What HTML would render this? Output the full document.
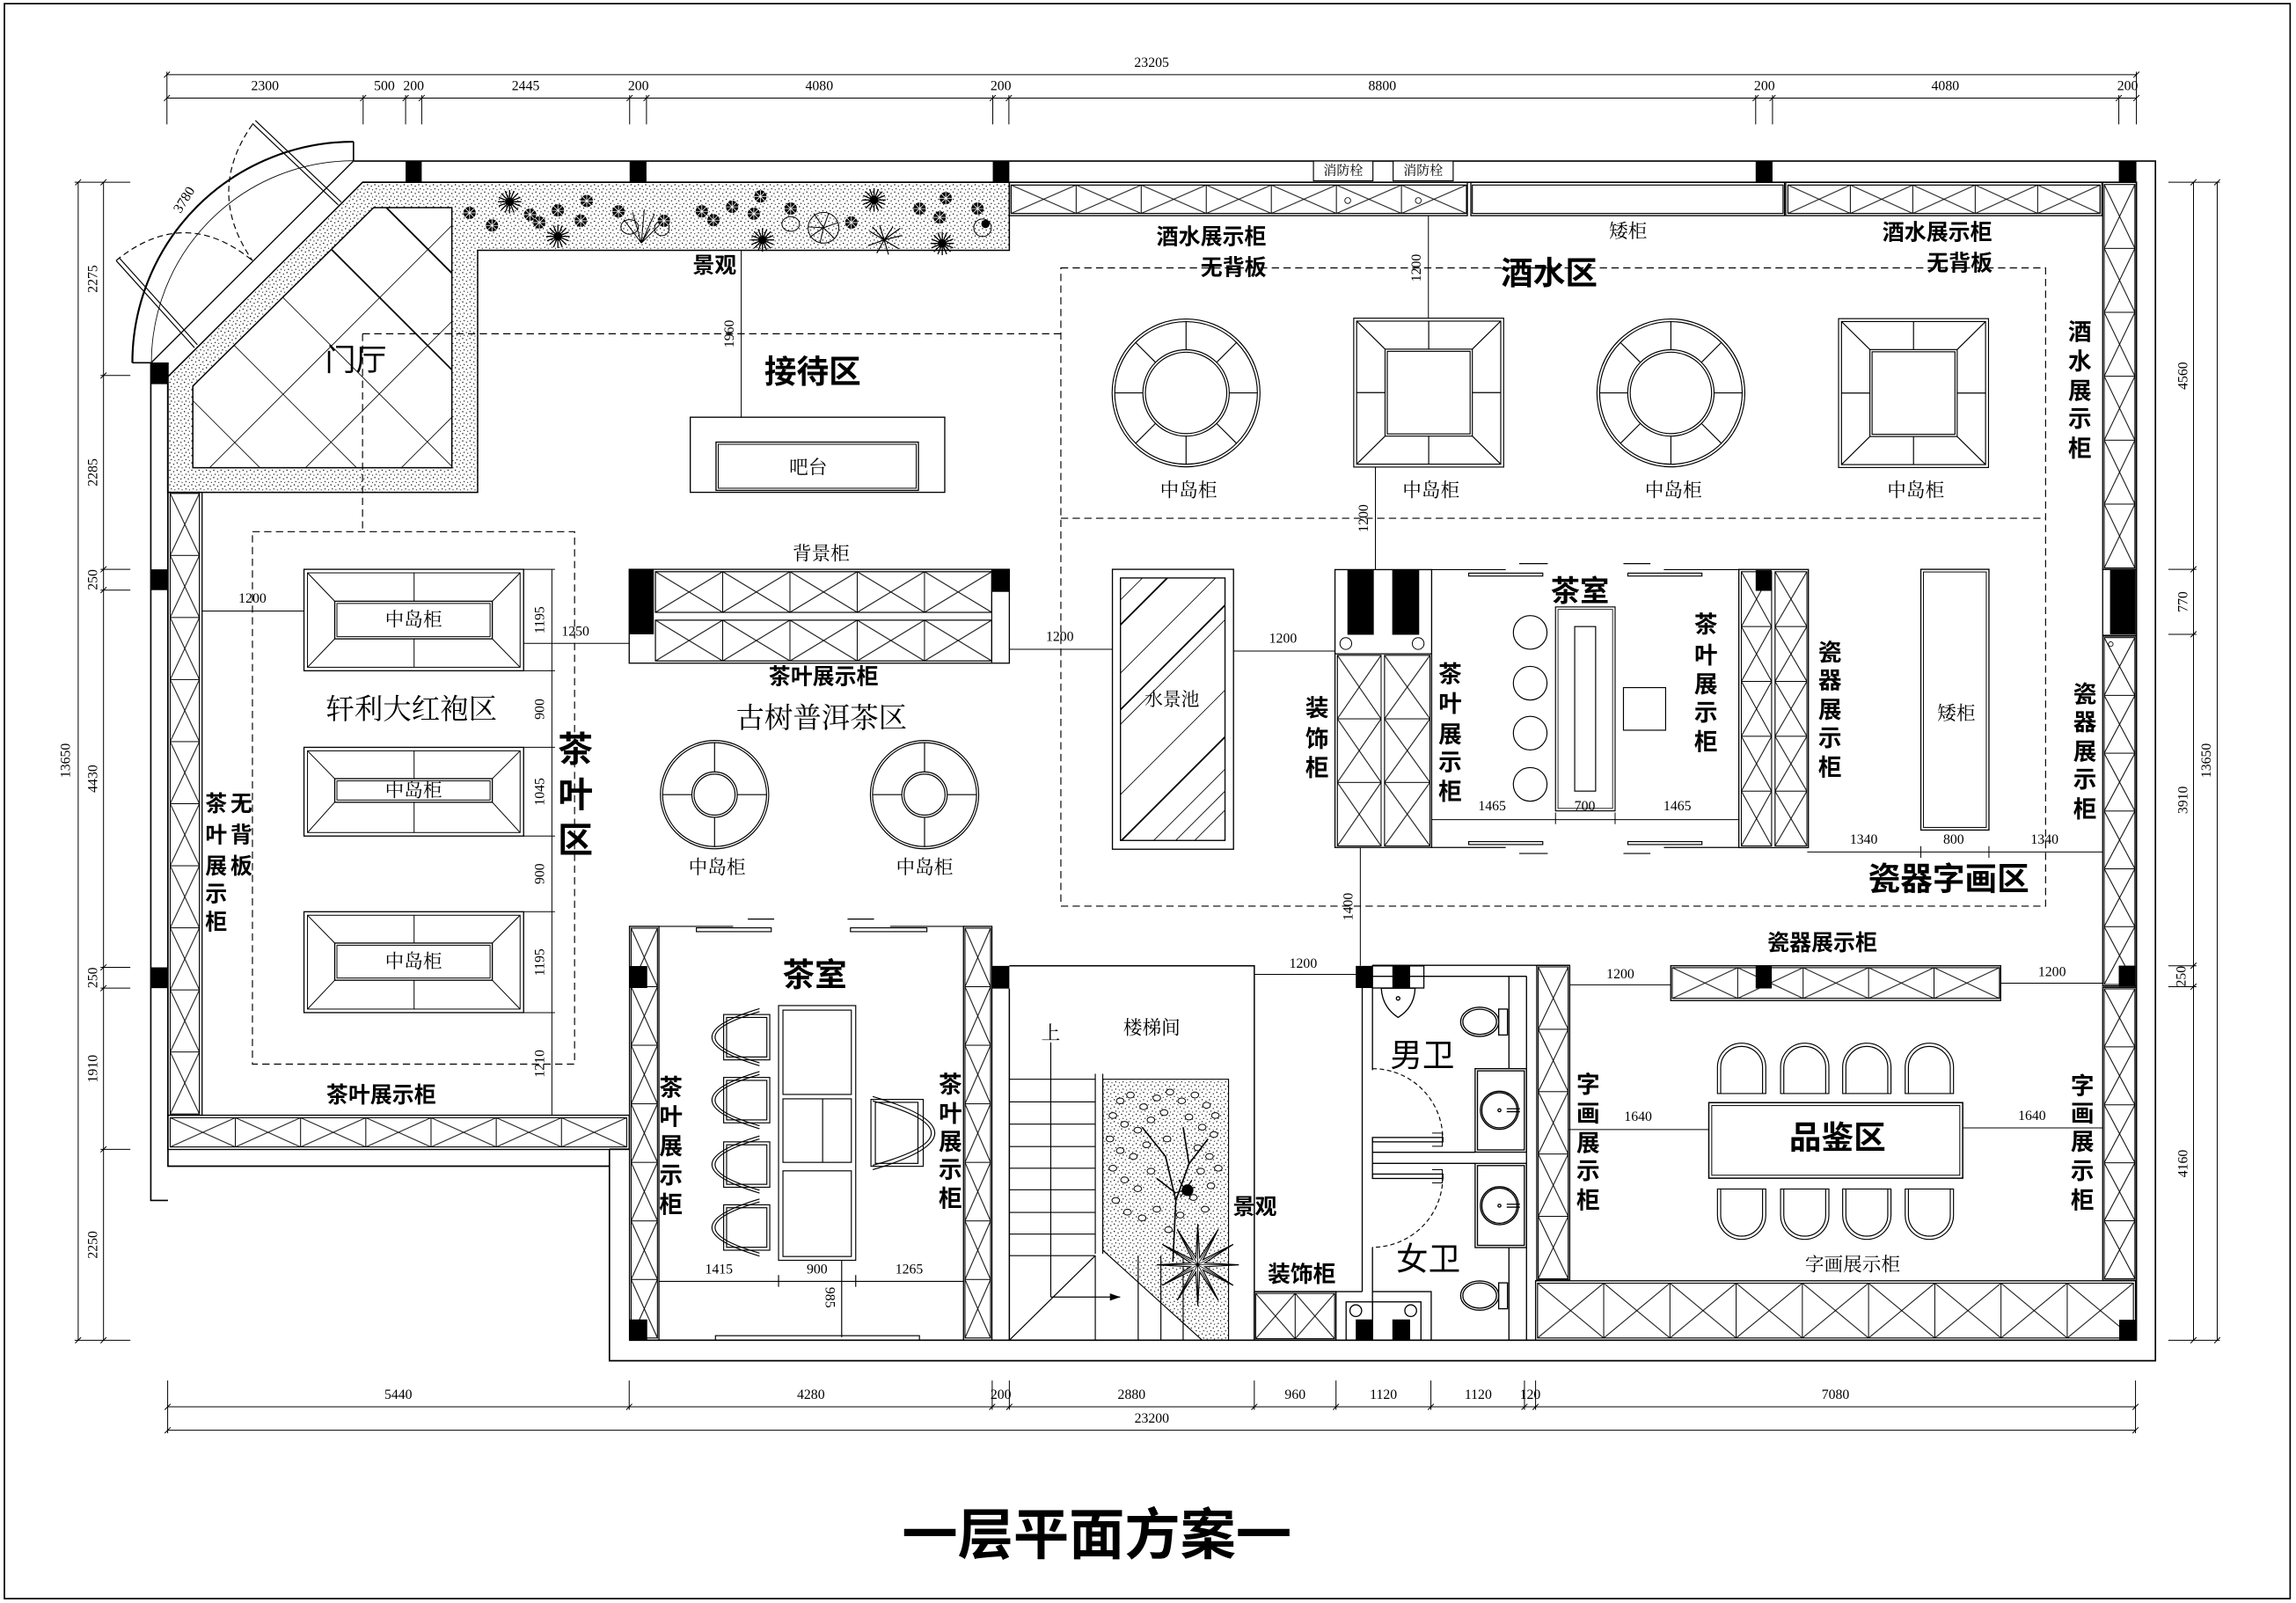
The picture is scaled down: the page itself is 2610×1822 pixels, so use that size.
<!DOCTYPE html>
<html><head><meta charset="utf-8">
<style>
html,body{margin:0;padding:0;background:#fff;}
svg{display:block}
.b{font-family:"Liberation Sans","Noto Sans CJK SC",sans-serif;font-weight:bold;fill:#000}
.r{font-family:"Liberation Sans","Noto Sans CJK SC",sans-serif;fill:#000}
.s{font-family:"Liberation Serif","Noto Serif CJK SC",serif;fill:#000}
.n{font-family:"Liberation Sans Narrow","Liberation Serif",serif;font-size:9.5px;fill:#000}
text{dominant-baseline:central;text-anchor:middle}
</style></head><body>
<svg xmlns="http://www.w3.org/2000/svg" width="2610" height="1822" viewBox="0 0 1568 1095" preserveAspectRatio="none">
<defs>
<pattern id="dots" patternUnits="userSpaceOnUse" width="5" height="5"><circle cx="1" cy="1.2" r="0.45"/><circle cx="3.6" cy="2.2" r="0.4"/><circle cx="2" cy="4" r="0.42"/><circle cx="4.4" cy="4.6" r="0.35"/></pattern>
<pattern id="p1" patternUnits="userSpaceOnUse" x="690.5" y="126.4" width="44.43" height="19.4"><path d="M0 0L44.43 19.4M44.43 0L0 19.4M0 0H44.43V19.4H0Z" fill="none" stroke="#000" stroke-width="0.6"/></pattern>
<pattern id="p2" patternUnits="userSpaceOnUse" x="1221" y="126.4" width="42.64" height="19.4"><path d="M0 0L42.64 19.4M42.64 0L0 19.4M0 0H42.64V19.4H0Z" fill="none" stroke="#000" stroke-width="0.6"/></pattern>
<pattern id="p3" patternUnits="userSpaceOnUse" x="1437" y="126" width="21" height="43.67"><path d="M0 0L21 43.67M21 0L0 43.67M0 0H21V43.67H0Z" fill="none" stroke="#000" stroke-width="0.6"/></pattern>
<pattern id="p4" patternUnits="userSpaceOnUse" x="1437" y="435.5" width="21" height="39.5"><path d="M0 0L21 39.5M21 0L0 39.5M0 0H21V39.5H0Z" fill="none" stroke="#000" stroke-width="0.6"/></pattern>
<pattern id="p5" patternUnits="userSpaceOnUse" x="1437" y="675.5" width="21" height="39.6"><path d="M0 0L21 39.6M21 0L0 39.6M0 0H21V39.6H0Z" fill="none" stroke="#000" stroke-width="0.6"/></pattern>
<pattern id="p6" patternUnits="userSpaceOnUse" x="116.2" y="337" width="20" height="42.4"><path d="M0 0L20 42.4M20 0L0 42.4M0 0H20V42.4H0Z" fill="none" stroke="#000" stroke-width="0.6"/></pattern>
<pattern id="p7" patternUnits="userSpaceOnUse" x="116.2" y="763.5" width="44.54" height="20"><path d="M0 0L44.54 20M44.54 0L0 20M0 0H44.54V20H0Z" fill="none" stroke="#000" stroke-width="0.6"/></pattern>
<pattern id="p8" patternUnits="userSpaceOnUse" x="447.6" y="390.5" width="45.94" height="27.8"><path d="M0 0L45.94 27.8M45.94 0L0 27.8M0 0H45.94V27.8H0Z" fill="none" stroke="#000" stroke-width="0.6"/></pattern>
<pattern id="p9" patternUnits="userSpaceOnUse" x="447.6" y="423.6" width="45.94" height="27.9"><path d="M0 0L45.94 27.9M45.94 0L0 27.9M0 0H45.94V27.9H0Z" fill="none" stroke="#000" stroke-width="0.6"/></pattern>
<pattern id="p10" patternUnits="userSpaceOnUse" x="431" y="634" width="18" height="40"><path d="M0 0L18 40M18 0L0 40M0 0H18V40H0Z" fill="none" stroke="#000" stroke-width="0.6"/></pattern>
<pattern id="p11" patternUnits="userSpaceOnUse" x="659" y="634" width="17.5" height="40"><path d="M0 0L17.5 40M17.5 0L0 40M0 0H17.5V40H0Z" fill="none" stroke="#000" stroke-width="0.6"/></pattern>
<pattern id="p12" patternUnits="userSpaceOnUse" x="913.3" y="447.6" width="29.9" height="43.43"><path d="M0 0L29.9 43.43M29.9 0L0 43.43M0 0H29.9V43.43H0Z" fill="none" stroke="#000" stroke-width="0.6"/></pattern>
<pattern id="p13" patternUnits="userSpaceOnUse" x="945.5" y="447.6" width="31.1" height="43.43"><path d="M0 0L31.1 43.43M31.1 0L0 43.43M0 0H31.1V43.43H0Z" fill="none" stroke="#000" stroke-width="0.6"/></pattern>
<pattern id="p14" patternUnits="userSpaceOnUse" x="1189.2" y="390.5" width="20.7" height="37.48"><path d="M0 0L20.7 37.48M20.7 0L0 37.48M0 0H20.7V37.48H0Z" fill="none" stroke="#000" stroke-width="0.6"/></pattern>
<pattern id="p15" patternUnits="userSpaceOnUse" x="1212.2" y="390.5" width="21.8" height="37.48"><path d="M0 0L21.8 37.48M21.8 0L0 37.48M0 0H21.8V37.48H0Z" fill="none" stroke="#000" stroke-width="0.6"/></pattern>
<pattern id="p16" patternUnits="userSpaceOnUse" x="1142" y="661" width="44.7" height="21"><path d="M0 0L44.7 21M44.7 0L0 21M0 0H44.7V21H0Z" fill="none" stroke="#000" stroke-width="0.6"/></pattern>
<pattern id="p17" patternUnits="userSpaceOnUse" x="1050.5" y="660.5" width="20.5" height="42.6"><path d="M0 0L20.5 42.6M20.5 0L0 42.6M0 0H20.5V42.6H0Z" fill="none" stroke="#000" stroke-width="0.6"/></pattern>
<pattern id="p18" patternUnits="userSpaceOnUse" x="1050" y="876.5" width="45.22" height="37.5"><path d="M0 0L45.22 37.5M45.22 0L0 37.5M0 0H45.22V37.5H0Z" fill="none" stroke="#000" stroke-width="0.6"/></pattern>
<pattern id="p19" patternUnits="userSpaceOnUse" x="857.5" y="883.5" width="27" height="31"><path d="M0 0L27 31M27 0L0 31M0 0H27V31H0Z" fill="none" stroke="#000" stroke-width="0.6"/></pattern>
<clipPath id="floor"><polygon points="255.2,141.8 308.6,141.8 308.6,319.5 131.7,319.5 131.7,263.7"/></clipPath>
<clipPath id="pool"><rect x="765.2" y="394.8" width="71.4" height="179.3"/></clipPath>
<g id="rbig" fill="none" stroke="#000" stroke-width="0.7"><circle r="50.5"/><circle r="48.7"/><circle r="29.5"/><circle r="27.8"/><path d="M29.5 0H48.7M-29.5 0H-48.7M0 29.5V48.7M0 -29.5V-48.7M20.9 20.9L34.4 34.4M-20.9 20.9L-34.4 34.4M-20.9 -20.9L-34.4 -34.4M20.9 -20.9L34.4 -34.4"/></g>
<g id="rsm" fill="none" stroke="#000" stroke-width="0.7"><circle r="37"/><circle r="35.5"/><circle r="15.5"/><circle r="14"/><path d="M15.5 0H35.5M-15.5 0H-35.5M0 15.5V35.5M0 -15.5V-35.5"/></g>
<g id="sq" fill="none" stroke="#000" stroke-width="0.7"><rect x="-51.2" y="-50.85" width="102.4" height="101.7"/><rect x="-49.2" y="-48.85" width="98.4" height="97.7"/><rect x="-29.8" y="-29.7" width="59.6" height="59.4"/><rect x="-28.3" y="-28.2" width="56.6" height="56.4"/><path d="M-49.2 -48.85L-29.8 -29.7M49.2 -48.85L29.8 -29.7M-49.2 48.85L-29.8 29.7M49.2 48.85L29.8 29.7M0 -48.85V-29.7M0 29.7V48.85M-49.2 0H-29.8M29.8 0H49.2"/></g>
<g id="cht" fill="none" stroke="#000" stroke-width="0.7"><path d="M-16.5 17.9V0A16.5 16.5 0 0 1 16.5 0V17.9Z"/><path d="M-14.3 17.9V0A14.3 14.3 0 0 1 14.3 0V17.9"/></g>
<g id="blob"><circle r="4.2" fill="#000"/><path d="M-4.2 0H4.2M0 -4.2V4.2M-3 -3L3 3M3 -3L-3 3" stroke="#fff" stroke-width="0.5"/></g>
<g id="star" stroke="#000" stroke-width="0.8" fill="none"><path d="M-8 0L8 0M0 -8L0 8M-5.7 -5.7L5.7 5.7M5.7 -5.7L-5.7 5.7M-7.4 -3L7.4 3M-3 -7.4L3 7.4M3 -7.4L-3 7.4M-7.4 3L7.4 -3"/><circle r="2.5" fill="#000"/></g>
</defs>

<rect width="1568" height="1095" fill="#fff"/>
<rect x="3" y="2.5" width="1561" height="1089.5" fill="none" stroke="#000" stroke-width="1"/>

<!-- ===== planter (top-left) ===== -->
<path d="M247.6 124.5H689.3V171H326.2V336.3H114.5V257.5Z M255.2 141.8H308.6V319.5H131.7V263.7Z" fill="url(#dots)" fill-rule="evenodd" stroke="#000" stroke-width="0.9"/>
<g clip-path="url(#floor)" stroke="#000" stroke-width="0.5" fill="none">
<path d="M176 120L386 330M110 120L320 330M44 120L254 330M-22 120L188 330M342.6 120L132.6 330M408.1 120L198.1 330M473.6 120L263.6 330"/>
<path d="M242 120L452 330M176 120L386 330M197 192L131.7 263.7" stroke-width="1.1"/>
</g>
<text class="r" x="243" y="246" font-size="21">门厅</text>

<!-- plants -->
<use href="#blob" x="320.7" y="145.4"/>
<use href="#blob" x="336" y="154"/>
<use href="#star" x="348" y="137.8"/>
<use href="#blob" x="362" y="146.6"/>
<use href="#blob" x="368.3" y="152"/>
<use href="#blob" x="381" y="143.7"/>
<use href="#star" x="381" y="161.5"/>
<use href="#blob" x="396.6" y="150.8"/>
<use href="#blob" x="400.7" y="137.3"/>
<use href="#blob" x="422.4" y="144.4"/>
<g stroke="#000" stroke-width="0.6" fill="none"><path d="M438 166L432 145M438 166L440 143M438 166L447 146M438 166L452 152M438 166L426 150M438 166L444 156"/><ellipse cx="430" cy="155" rx="6" ry="5"/><ellipse cx="452" cy="156" rx="5" ry="5"/></g>
<use href="#blob" x="453.4" y="150.8"/>
<use href="#blob" x="479.3" y="144.4"/>
<use href="#blob" x="487.2" y="150.4"/>
<use href="#blob" x="500" y="141.3"/>
<use href="#blob" x="514.8" y="146"/>
<use href="#blob" x="519.3" y="134.2"/>
<use href="#star" x="520.7" y="163.9"/>
<use href="#blob" x="540" y="142.5"/>
<g stroke="#000" stroke-width="0.6" fill="none"><circle cx="562.4" cy="155.6" r="10.5"/><path d="M562.4 155.6L552 155M562.4 155.6L556 146M562.4 155.6L566 145.5M562.4 155.6L572.5 152M562.4 155.6L570 163M562.4 155.6L560 166M562.4 155.6L553 162"/><ellipse cx="540" cy="153" rx="6" ry="5"/></g>
<use href="#blob" x="581.4" y="152"/>
<use href="#star" x="596.9" y="136.6"/>
<g stroke="#000" stroke-width="0.7"><path d="M603.8 163.9l12 -3M603.8 163.9l10 6M603.8 163.9l3 10M603.8 163.9l-5 9M603.8 163.9l-11 4M603.8 163.9l-10 -6M603.8 163.9l-3 -10M603.8 163.9l6 -9M603.8 163.9l11 -8M603.8 163.9l-8 -9"/></g>
<use href="#blob" x="628" y="142.5"/>
<use href="#blob" x="645.9" y="135.4"/>
<use href="#blob" x="641.7" y="148.5"/>
<use href="#star" x="643.5" y="166.3"/>
<use href="#blob" x="667.6" y="142.5"/>
<g stroke="#000" stroke-width="0.6" fill="none"><circle cx="671" cy="155.6" r="6"/><circle cx="673" cy="153" r="2.5" fill="#000"/></g>

<!-- ===== entrance door ===== -->
<g fill="none" stroke="#000">
<path d="M241.4 96.8A151 151 0 0 0 90.4 247.8" stroke-width="1.3"/>
<path d="M241.4 96.8V110M90.4 247.8H103" stroke-width="1"/>
<path d="M241.4 109.8A138 138 0 0 0 103.4 247.8" stroke-width="0.5"/>
<path d="M241.4 110L103.4 247.6" stroke-width="0.8"/>
<path d="M172.4 84.3L231 140M174.4 82.3L233 138" stroke-width="0.7"/>
<path d="M79.3 178L132.8 237.5M81.3 176L134.8 235.5" stroke-width="0.7"/>
<path d="M172.4 85Q140 131 172.4 178M79.3 178Q126 140 172.4 178" stroke-width="0.7" stroke-dasharray="4 2.5"/>
</g>
<text class="n" transform="translate(126,136.6) rotate(-58)">3780</text>

<!-- ===== walls ===== -->
<g fill="none" stroke="#000" stroke-width="1">
<path d="M241.6 110H1472V929.5H416.2V785"/>
<path d="M247.6 124.5H1459V915.5H429.7"/>
<path d="M103 247.6V820H114.7M114.7 247.6V796.6H416.2"/>
<path d="M416.2 785H429.7"/>
</g>
<g fill="#000">
<rect x="277" y="110" width="11" height="14.5"/>
<rect x="430" y="110" width="11.5" height="14.5"/>
<rect x="678" y="110" width="11.3" height="14.5"/>
<rect x="1199" y="110" width="11.5" height="14.5"/>
<rect x="1447" y="110" width="12" height="14.5"/>
<rect x="103" y="247.6" width="11.7" height="14.8"/>
<rect x="103" y="388.9" width="11.5" height="14.2"/>
<rect x="103" y="660.8" width="11.5" height="14.2"/>
<rect x="1441" y="389" width="17.4" height="44.3"/>
<rect x="1447" y="659.7" width="11.4" height="14.3"/>
<rect x="1447.3" y="901.5" width="11.1" height="14"/>
</g>

<!-- fire hydrant boxes -->
<rect x="897" y="110" width="40.6" height="13.5" fill="#fff" stroke="#000" stroke-width="0.7"/>
<rect x="951.4" y="110" width="41" height="13.5" fill="#fff" stroke="#000" stroke-width="0.7"/>
<text class="s" x="917.3" y="116.8" font-size="9">消防栓</text>
<text class="s" x="971.9" y="116.8" font-size="9">消防栓</text>

<!-- ===== top cabinets ===== -->
<rect x="689.3" y="124.5" width="312.8" height="22.8" fill="none" stroke="#000" stroke-width="0.8"/>
<rect x="690.5" y="126.4" width="311" height="19.4" fill="url(#p1)" stroke="#000" stroke-width="0.7"/>
<circle cx="920.4" cy="137" r="2" fill="none" stroke="#000" stroke-width="0.5"/>
<circle cx="968.6" cy="137" r="2" fill="none" stroke="#000" stroke-width="0.5"/>
<rect x="1004.5" y="124.5" width="214.2" height="22.8" fill="none" stroke="#000" stroke-width="0.8"/>
<rect x="1005.5" y="126.4" width="212.2" height="19.4" fill="none" stroke="#000" stroke-width="0.7"/>
<rect x="1219.5" y="124.5" width="216" height="22.8" fill="none" stroke="#000" stroke-width="0.8"/>
<rect x="1221" y="126.4" width="213.2" height="19.4" fill="url(#p2)" stroke="#000" stroke-width="0.7"/>

<!-- right strips -->
<rect x="1436" y="124.5" width="23" height="264.4" fill="none" stroke="#000" stroke-width="0.8"/>
<rect x="1437" y="126" width="21" height="262" fill="url(#p3)" stroke="#000" stroke-width="0.6"/>
<rect x="1436" y="389" width="23" height="45" fill="none" stroke="#000" stroke-width="0.8"/>
<rect x="1436" y="434.5" width="23" height="239" fill="none" stroke="#000" stroke-width="0.8"/>
<rect x="1437" y="435.5" width="21" height="237" fill="url(#p4)" stroke="#000" stroke-width="0.6"/>
<rect x="1436" y="674.5" width="23" height="200" fill="none" stroke="#000" stroke-width="0.8"/>
<rect x="1437" y="675.5" width="21" height="198" fill="url(#p5)" stroke="#000" stroke-width="0.6"/>
<rect x="1447" y="659.7" width="11.4" height="14.3" fill="#000"/>
<circle cx="1441.5" cy="440" r="1.6" fill="none" stroke="#000" stroke-width="0.5"/>

<!-- left strip -->
<rect x="114.5" y="336.3" width="23.5" height="425.5" fill="none" stroke="#000" stroke-width="0.8"/>
<rect x="116.2" y="337" width="20" height="424" fill="url(#p6)" stroke="#000" stroke-width="0.6"/>
<rect x="114.5" y="761.8" width="315.2" height="23.4" fill="none" stroke="#000" stroke-width="0.8"/>
<rect x="116.2" y="763.5" width="311.8" height="20" fill="url(#p7)" stroke="#000" stroke-width="0.6"/>

<!-- ===== reception ===== -->
<rect x="471.4" y="285" width="173.8" height="51.3" fill="none" stroke="#000" stroke-width="0.8"/>
<rect x="489" y="302" width="138.2" height="33" fill="none" stroke="#000" stroke-width="0.8"/>
<rect x="490.5" y="303.5" width="135.2" height="30" fill="none" stroke="#000" stroke-width="0.6"/>
<text class="s" x="552" y="319.5" font-size="13">吧台</text>
<text class="b" x="555" y="254" font-size="22">接待区</text>
<text class="b" x="488" y="181.5" font-size="15">景观</text>
<path d="M506.2 171V285" stroke="#000" stroke-width="0.6"/>
<text class="n" transform="translate(498.3,228) rotate(-90)">1960</text>

<!-- dashed zones -->
<g fill="none" stroke="#000" stroke-width="0.7" stroke-dasharray="5 3">
<path d="M247.6 228H724.5M247.6 228V363.2"/>
<rect x="172.4" y="363.2" width="220" height="363.7"/>
<rect x="724.5" y="183" width="672.5" height="436"/>
<path d="M724.5 354H1397"/>
</g>

<!-- ===== 酒水区 ===== -->
<use href="#rbig" x="810" y="268.4"/>
<use href="#rbig" x="1141.1" y="268.4"/>
<use href="#sq" x="975.7" y="268.2"/>
<use href="#sq" x="1306.8" y="268.5"/>
<text class="s" x="811.7" y="335" font-size="13">中岛柜</text>
<text class="s" x="977.3" y="335" font-size="13">中岛柜</text>
<text class="s" x="1142.8" y="335" font-size="13">中岛柜</text>
<text class="s" x="1308.3" y="335" font-size="13">中岛柜</text>
<text class="b" x="827.3" y="162" font-size="15">酒水展示柜</text>
<text class="b" x="842.4" y="183" font-size="15">无背板</text>
<text class="s" x="1111.8" y="158" font-size="13">矮柜</text>
<text class="b" x="1323" y="159" font-size="15">酒水展示柜</text>
<text class="b" x="1338.3" y="180" font-size="15">无背板</text>
<text class="b" x="1058" y="186.5" font-size="22">酒水区</text>
<text class="b" font-size="16"><tspan x="1420.4" y="226.8">酒</tspan><tspan x="1420.4" y="247">水</tspan><tspan x="1420.4" y="267.2">展</tspan><tspan x="1420.4" y="286.2">示</tspan><tspan x="1420.4" y="306.4">柜</tspan></text>
<path d="M975.5 147.3V217.3M939.3 319V389.1" stroke="#000" stroke-width="0.6"/>
<text class="n" transform="translate(967.6,183) rotate(-90)">1200</text>
<text class="n" transform="translate(931.4,354) rotate(-90)">1200</text>

<!-- ===== 茶叶区 ===== -->
<g fill="none" stroke="#000" stroke-width="0.8">
<rect x="207.6" y="388.9" width="150" height="69.3"/><rect x="210" y="391.3" width="145.2" height="64.5" stroke-width="0.6"/>
<rect x="228.6" y="410.7" width="107.6" height="25.7"/><rect x="230.1" y="412.2" width="104.6" height="22.7" stroke-width="0.6"/>
<path d="M210 391.3L228.6 410.7M355.2 391.3L336.2 410.7M210 455.8L228.6 436.4M355.2 455.8L336.2 436.4M282.8 391.3V410.7M282.8 436.4V455.8" stroke-width="0.6"/>
<rect x="207.6" y="510.5" width="150" height="60.6"/><rect x="210" y="512.9" width="145.2" height="55.8" stroke-width="0.6"/>
<rect x="228.6" y="531.9" width="107.6" height="16.1"/><rect x="230.1" y="533.4" width="104.6" height="13.1" stroke-width="0.6"/>
<path d="M210 512.9L228.6 531.9M355.2 512.9L336.2 531.9M210 568.7L228.6 548M355.2 568.7L336.2 548M282.8 512.9V531.9M282.8 548V568.7" stroke-width="0.6"/>
<rect x="207.6" y="622.8" width="150" height="68.9"/><rect x="210" y="625.2" width="145.2" height="64.1" stroke-width="0.6"/>
<rect x="228.6" y="644.2" width="107.6" height="25.4"/><rect x="230.1" y="645.7" width="104.6" height="22.4" stroke-width="0.6"/>
<path d="M210 625.2L228.6 644.2M355.2 625.2L336.2 644.2M210 689.3L228.6 669.6M355.2 689.3L336.2 669.6M282.8 625.2V644.2M282.8 669.6V689.3" stroke-width="0.6"/>
</g>
<text class="s" x="282.4" y="423.5" font-size="13">中岛柜</text>
<text class="s" x="282.4" y="540" font-size="13">中岛柜</text>
<text class="s" x="282.4" y="657" font-size="13">中岛柜</text>
<text class="s" x="281" y="485" font-size="19.5">轩利大红袍区</text>
<text class="b" font-size="24"><tspan x="393" y="512.4">茶</tspan><tspan x="393" y="543.3">叶</tspan><tspan x="393" y="574.2">区</tspan></text>
<g stroke="#000" stroke-width="0.6" fill="none">
<path d="M376.9 388.9V761.8M357.6 388.9H379M357.6 458.2H379M357.6 510.5H379M357.6 571.1H379M357.6 622.8H379M357.6 691.7H379"/>
<path d="M137.9 417.4H207.6M357.6 439.5H429.7"/>
</g>
<text class="n" transform="translate(369,423.5) rotate(-90)">1195</text>
<text class="n" transform="translate(369,484.4) rotate(-90)">900</text>
<text class="n" transform="translate(369,540.8) rotate(-90)">1045</text>
<text class="n" transform="translate(369,596.9) rotate(-90)">900</text>
<text class="n" transform="translate(369,657.3) rotate(-90)">1195</text>
<text class="n" transform="translate(369,726.5) rotate(-90)">1210</text>
<text class="n" x="172.4" y="409">1200</text>
<text class="n" x="393" y="431.6">1250</text>
<text class="b" font-size="15"><tspan x="147.6" y="549.2">茶</tspan><tspan x="147.6" y="570.6">叶</tspan><tspan x="147.6" y="592">展</tspan><tspan x="147.6" y="611">示</tspan><tspan x="147.6" y="630">柜</tspan><tspan x="164.8" y="549.2">无</tspan><tspan x="164.8" y="570.6">背</tspan><tspan x="164.8" y="592">板</tspan></text>
<text class="b" x="260.3" y="748.3" font-size="15">茶叶展示柜</text>

<!-- ===== 背景柜 ===== -->
<rect x="429.7" y="388.9" width="259.6" height="64.1" fill="none" stroke="#000" stroke-width="0.8"/>
<rect x="447.6" y="390.5" width="229.7" height="27.8" fill="url(#p8)" stroke="#000" stroke-width="0.7"/>
<rect x="447.6" y="423.6" width="229.7" height="27.9" fill="url(#p9)" stroke="#000" stroke-width="0.7"/>
<rect x="429.7" y="388.9" width="16.8" height="44.4" fill="#000"/>
<rect x="677.3" y="388.9" width="12" height="15.4" fill="#000"/>
<path d="M677.3 388.9V453" stroke="#000" stroke-width="0.7"/>
<text class="s" x="560.7" y="378.2" font-size="13">背景柜</text>
<text class="b" x="562.4" y="462.5" font-size="15">茶叶展示柜</text>
<text class="s" x="561" y="491" font-size="19.5">古树普洱茶区</text>
<use href="#rsm" x="488" y="542.8"/>
<use href="#rsm" x="631.4" y="542.8"/>
<text class="s" x="489.7" y="592.5" font-size="13">中岛柜</text>
<text class="s" x="631.4" y="592.5" font-size="13">中岛柜</text>

<!-- ===== 水景池 ===== -->
<rect x="759.7" y="388.9" width="82.7" height="191.2" fill="none" stroke="#000" stroke-width="0.8"/>
<rect x="765.2" y="394.8" width="71.4" height="179.3" fill="none" stroke="#000" stroke-width="0.8"/>
<g clip-path="url(#pool)" stroke="#000" fill="none">
<path d="M795 380L585 590M880 380L670 590M928 380L718 590M982 380L772 590M997 380L787 590M1030 380L820 590M845 380L635 590M1010 380L800 590" stroke-width="0.5"/>
<path d="M812 380L602 590M870 380L660 590M960 380L750 590" stroke-width="1.1"/>
</g>
<text class="s" x="800.4" y="478" font-size="12.5">水景池</text>
<path d="M689.3 443.5H759.7M842.4 444.7H911.7" stroke="#000" stroke-width="0.6"/>
<text class="n" x="723.8" y="435.2">1200</text>
<text class="n" x="876.2" y="436.4">1200</text>

<!-- ===== 装饰柜 + right tea room ===== -->
<rect x="911.7" y="389.1" width="66" height="189.8" fill="none" stroke="#000" stroke-width="0.8"/>
<path d="M911.7 446.6H977.7" stroke="#000" stroke-width="0.7"/>
<rect x="920.2" y="389.1" width="18" height="44.5" fill="#000"/>
<rect x="950.8" y="389.1" width="18.4" height="44.5" fill="#000"/>
<circle cx="919.1" cy="439.6" r="4" fill="none" stroke="#000" stroke-width="0.6"/>
<circle cx="968.5" cy="439.6" r="4" fill="none" stroke="#000" stroke-width="0.6"/>
<rect x="913.3" y="447.6" width="29.9" height="130.3" fill="url(#p12)" stroke="#000" stroke-width="0.6"/>
<rect x="945.5" y="447.6" width="31.1" height="130.3" fill="url(#p13)" stroke="#000" stroke-width="0.6"/>
<text class="b" font-size="16"><tspan x="899.5" y="483.7">装</tspan><tspan x="899.5" y="504.8">饰</tspan><tspan x="899.5" y="524.8">柜</tspan></text>
<g fill="none" stroke="#000" stroke-width="0.7">
<path d="M977.7 389.1H1028.3M1136.3 389.1H1188M977.7 578.9H1028.3M1136.3 578.9H1188"/>
<rect x="1003" y="391.5" width="50.6" height="2"/><rect x="1111.7" y="391.5" width="50.6" height="2"/>
<rect x="1003" y="574.9" width="50.6" height="2"/><rect x="1111.7" y="574.9" width="50.6" height="2"/>
<path d="M1037.5 385H1057M1108.7 385H1127.1M1037.5 583H1057M1108.7 583H1127.1"/>
<circle cx="1045" cy="432" r="11.5"/><circle cx="1045" cy="466.7" r="11.5"/><circle cx="1045" cy="500.8" r="11.5"/><circle cx="1045" cy="535.8" r="11.5"/>
<rect x="1062.3" y="414.6" width="40.7" height="139.3"/><rect x="1064" y="416.3" width="37.3" height="135.9" stroke-width="0.5"/>
<rect x="1075.4" y="428" width="14.3" height="112.4"/>
<rect x="1108.7" y="469.7" width="28.8" height="29.1"/>
<path d="M977.7 559.9H1188M1062.3 555V563M1103 555V563" stroke-width="0.6"/>
</g>
<text class="b" x="1079" y="404.6" font-size="20">茶室</text>
<text class="b" font-size="16"><tspan x="990.3" y="460.7">茶</tspan><tspan x="990.3" y="480.7">叶</tspan><tspan x="990.3" y="501.8">展</tspan><tspan x="990.3" y="520.8">示</tspan><tspan x="990.3" y="540.8">柜</tspan></text>
<text class="b" font-size="16"><tspan x="1165" y="426.6">茶</tspan><tspan x="1165" y="447.6">叶</tspan><tspan x="1165" y="467.7">展</tspan><tspan x="1165" y="486.7">示</tspan><tspan x="1165" y="506.8">柜</tspan></text>
<text class="n" x="1019" y="550.9">1465</text>
<text class="n" x="1082.3" y="550.9">700</text>
<text class="n" x="1145.5" y="550.9">1465</text>
<rect x="1187.5" y="389" width="47.5" height="190" fill="none" stroke="#000" stroke-width="0.8"/>
<rect x="1189.2" y="390.5" width="20.7" height="187.4" fill="url(#p14)" stroke="#000" stroke-width="0.6"/>
<rect x="1212.2" y="390.5" width="21.8" height="187.4" fill="url(#p15)" stroke="#000" stroke-width="0.6"/>
<rect x="1199" y="389.5" width="10.9" height="14.1" fill="#000"/>
<text class="b" font-size="16"><tspan x="1249.7" y="445.9">瓷</tspan><tspan x="1249.7" y="464.9">器</tspan><tspan x="1249.7" y="485.1">展</tspan><tspan x="1249.7" y="504.1">示</tspan><tspan x="1249.7" y="524.3">柜</tspan></text>
<rect x="1311.8" y="388.9" width="46.5" height="178.1" fill="none" stroke="#000" stroke-width="0.8"/>
<rect x="1313.6" y="390.7" width="42.9" height="174.5" fill="none" stroke="#000" stroke-width="0.6"/>
<text class="s" x="1336" y="487.5" font-size="13">矮柜</text>
<path d="M1234.2 582H1436M1311.8 578V586M1358.3 578V586" stroke="#000" stroke-width="0.6"/>
<text class="n" x="1272.8" y="573.5">1340</text>
<text class="n" x="1334.2" y="573.5">800</text>
<text class="n" x="1396.3" y="573.5">1340</text>
<text class="b" x="1330.8" y="600.3" font-size="22">瓷器字画区</text>
<text class="b" font-size="16"><tspan x="1423.9" y="474.4">瓷</tspan><tspan x="1423.9" y="493.4">器</tspan><tspan x="1423.9" y="513.6">展</tspan><tspan x="1423.9" y="532.6">示</tspan><tspan x="1423.9" y="552.8">柜</tspan></text>
<path d="M929 578.9V659.7" stroke="#000" stroke-width="0.6"/>
<text class="n" transform="translate(921,619.3) rotate(-90)">1400</text>

<!-- ===== lower-left tea room ===== -->
<rect x="429.9" y="632.8" width="20.1" height="282.6" fill="none" stroke="#000" stroke-width="0.8"/>
<rect x="431" y="634" width="18" height="280" fill="url(#p10)" stroke="#000" stroke-width="0.6"/>
<rect x="658" y="632.8" width="19.4" height="282.6" fill="none" stroke="#000" stroke-width="0.8"/>
<rect x="659" y="634" width="17.5" height="280" fill="url(#p11)" stroke="#000" stroke-width="0.6"/>
<g fill="#000">
<rect x="429.9" y="659.9" width="12.1" height="15"/>
<rect x="429.9" y="901.3" width="12.1" height="14.1"/>
<rect x="677.3" y="659.8" width="12" height="15.5"/>
</g>
<g fill="none" stroke="#000" stroke-width="0.7">
<path d="M450 632.8H500.7M607.9 632.8H658M510.7 627.8H528.7M578.8 627.8H596.9"/>
<rect x="475.6" y="633.8" width="51.1" height="2.6"/><rect x="580.8" y="633.8" width="52.2" height="2.6"/>
<rect x="531.7" y="686.9" width="52.7" height="174"/>
<rect x="534.7" y="690" width="46.7" height="57.6"/>
<rect x="534.7" y="750.6" width="46.7" height="43.4"/>
<path d="M561.8 750.6V794"/>
<rect x="534.7" y="799.8" width="46.7" height="58.5"/>
<rect x="494.2" y="693" width="31.5" height="31"/><rect x="496.2" y="695" width="27.5" height="27"/>
<rect x="494.2" y="736" width="31.5" height="31"/><rect x="496.2" y="738" width="27.5" height="27"/>
<rect x="494.2" y="780" width="31.5" height="31"/><rect x="496.2" y="782" width="27.5" height="27"/>
<rect x="494.2" y="823" width="31.5" height="31"/><rect x="496.2" y="825" width="27.5" height="27"/>
<path d="M518.7 689Q453.7 708.5 518.7 728M518.7 691Q458 708.5 518.7 726"/>
<path d="M518.7 732Q453.7 751.5 518.7 771M518.7 734Q458 751.5 518.7 769"/>
<path d="M518.7 776Q453.7 795.5 518.7 815M518.7 778Q458 795.5 518.7 813"/>
<path d="M518.7 819Q453.7 838.5 518.7 858M518.7 821Q458 838.5 518.7 856"/>
<rect x="594.8" y="751" width="35.7" height="45.7"/><rect x="597.8" y="753" width="29.1" height="41.7"/>
<path d="M596 749Q680.8 774 596 799M596 752Q676 774 596 796"/>
<path d="M450 875.3H658M531.7 871V879M584.4 871V879M574.8 860.9V913.4"/>
<rect x="488.6" y="912.4" width="139.3" height="3"/>
</g>
<text class="b" x="556.4" y="665.9" font-size="22">茶室</text>
<text class="b" font-size="16"><tspan x="458.2" y="743">茶</tspan><tspan x="458.2" y="763">叶</tspan><tspan x="458.2" y="783">展</tspan><tspan x="458.2" y="803">示</tspan><tspan x="458.2" y="823">柜</tspan></text>
<text class="b" font-size="16"><tspan x="649" y="741">茶</tspan><tspan x="649" y="761">叶</tspan><tspan x="649" y="780">展</tspan><tspan x="649" y="799">示</tspan><tspan x="649" y="819">柜</tspan></text>
<text class="n" x="491" y="867.3">1415</text>
<text class="n" x="558" y="867.3">900</text>
<text class="n" x="620.9" y="867.3">1265</text>
<text class="n" transform="translate(566.4,886.3) rotate(90)">985</text>

<!-- ===== stairs ===== -->
<g fill="none" stroke="#000" stroke-width="0.7">
<path d="M689.3 659.7H856.6V915.5M689.3 675.3V915.5" stroke-width="0.9"/>
<path d="M689.3 737.2H748M689.3 752.7H748M689.3 767.9H748M689.3 783.2H748M689.3 798H748M689.3 812.7H748M689.3 828.2H748M689.3 843H748M689.3 857.7H748"/>
<path d="M717.6 712V886M689.3 915.5L748 857.7M748 857.7V915.5M777.3 857.7V915.5M792.8 857.7V915.5M808 857.7V915.5"/>
<path d="M748 733.5V856.5M753.1 733.5V856.5"/>
<path d="M717.6 886H765"/>
</g>
<path d="M765 886L758 883.5V888.5Z" fill="#000"/>
<path d="M753.1 737.2H839V915.5H821L753.1 854Z" fill="url(#dots)" stroke="#000" stroke-width="0.7"/>
<g fill="#fff" stroke="#000" stroke-width="0.6">
<ellipse cx="765" cy="752" rx="2.6" ry="2"/><ellipse cx="772" cy="748" rx="2.6" ry="2"/><ellipse cx="781" cy="756" rx="2.6" ry="2"/><ellipse cx="790" cy="750" rx="2.6" ry="2"/><ellipse cx="799" cy="746" rx="2.6" ry="2"/><ellipse cx="807" cy="752" rx="2.6" ry="2"/><ellipse cx="816" cy="748" rx="2.6" ry="2"/><ellipse cx="824" cy="755" rx="2.6" ry="2"/><ellipse cx="830" cy="762" rx="2.6" ry="2"/><ellipse cx="760" cy="762" rx="2.6" ry="2"/><ellipse cx="768" cy="768" rx="2.6" ry="2"/><ellipse cx="777" cy="772" rx="2.6" ry="2"/><ellipse cx="786" cy="765" rx="2.6" ry="2"/><ellipse cx="795" cy="760" rx="2.6" ry="2"/><ellipse cx="812" cy="763" rx="2.6" ry="2"/><ellipse cx="821" cy="770" rx="2.6" ry="2"/><ellipse cx="829" cy="775" rx="2.6" ry="2"/><ellipse cx="758" cy="778" rx="2.6" ry="2"/><ellipse cx="765" cy="786" rx="2.6" ry="2"/><ellipse cx="774" cy="790" rx="2.6" ry="2"/><ellipse cx="783" cy="782" rx="2.6" ry="2"/><ellipse cx="797" cy="778" rx="2.6" ry="2"/><ellipse cx="818" cy="784" rx="2.6" ry="2"/><ellipse cx="826" cy="790" rx="2.6" ry="2"/><ellipse cx="832" cy="798" rx="2.6" ry="2"/><ellipse cx="760" cy="798" rx="2.6" ry="2"/><ellipse cx="768" cy="806" rx="2.6" ry="2"/><ellipse cx="777" cy="812" rx="2.6" ry="2"/><ellipse cx="786" cy="800" rx="2.6" ry="2"/><ellipse cx="820" cy="800" rx="2.6" ry="2"/><ellipse cx="827" cy="810" rx="2.6" ry="2"/><ellipse cx="762" cy="820" rx="2.6" ry="2"/><ellipse cx="770" cy="828" rx="2.6" ry="2"/><ellipse cx="780" cy="832" rx="2.6" ry="2"/><ellipse cx="790" cy="826" rx="2.6" ry="2"/><ellipse cx="798" cy="840" rx="2.6" ry="2"/><ellipse cx="806" cy="830" rx="2.6" ry="2"/><ellipse cx="815" cy="818" rx="2.6" ry="2"/><ellipse cx="823" cy="826" rx="2.6" ry="2"/>
</g>
<path d="M801 862L803 820L796 790L780 770M803 820L812 795L825 778M803 815L790 805M812 795L808 770" fill="none" stroke="#000" stroke-width="1"/>
<g fill="#000"><circle cx="811" cy="813" r="4"/><path d="M802 815l14 -4M805 806l8 12M814 806l-8 12" stroke="#000" stroke-width="0.7"/></g>
<polygon points="846,864 822.8,865.3 842.2,878 821.5,867.5 832,888.2 819.3,868.8 818,892 816.7,868.8 804,888.2 814.5,867.5 793.8,878 813.2,865.3 790,864 813.2,862.7 793.8,850 814.5,860.5 804,839.8 816.7,859.2 818,836 819.3,859.2 832,839.8 821.5,860.5 842.2,850 822.8,862.7" fill="#fff" stroke="#000" stroke-width="0.7"/>
<path d="M790 864H846M818 836V892M793.8 850L842.2 878M793.8 878L842.2 850M804 839.8L832 888.2M804 888.2L832 839.8" stroke="#000" stroke-width="0.5"/>
<text class="b" x="857" y="824.5" font-size="15">景观</text>
<text class="s" x="786.6" y="702.4" font-size="13">楼梯间</text>
<text class="s" x="717.6" y="706" font-size="13">上</text>
<path d="M856.6 665.6H926.2" stroke="#000" stroke-width="0.6"/>
<text class="n" x="890" y="658.5">1200</text>

<!-- small 装饰柜 -->
<rect x="856.6" y="882.3" width="55.8" height="33.2" fill="none" stroke="#000" stroke-width="0.8"/>
<rect x="857.5" y="883.5" width="54" height="31" fill="url(#p19)" stroke="#000" stroke-width="0.6"/>
<text class="b" x="889" y="870.7" font-size="15.5">装饰柜</text>

<!-- ===== bathrooms ===== -->
<g fill="none" stroke="#000" stroke-width="0.8">
<rect x="937.3" y="659.8" width="35.1" height="15.1"/>
<path d="M937.3 666.9H1042.5M937.3 659.4H1072"/>
<path d="M930.3 674.9V882.3M937.3 674.9V731M937.3 778V804M937.3 852V889.3"/>
<path d="M1042.5 666.9V915.4M1030.5 666.9V730M1030.5 852.2V915.4"/>
<path d="M937.3 787.1H1007.4M937.3 794.7H1007.4"/>
<rect x="1007.4" y="730" width="35.1" height="57"/><rect x="1009" y="731.5" width="32" height="54"/>
<rect x="1007.4" y="794.7" width="35.1" height="57.5"/><rect x="1009" y="796.2" width="32" height="54.5"/>
<circle cx="1024" cy="758.4" r="13"/><circle cx="1024" cy="758.4" r="12"/><circle cx="1024" cy="758.4" r="1"/><path d="M1029 757.4H1038M1029 759.4H1038"/>
<circle cx="1024" cy="823.6" r="13"/><circle cx="1024" cy="823.6" r="12"/><circle cx="1024" cy="823.6" r="1"/><path d="M1029 822.6H1038M1029 824.6H1038"/>
<ellipse cx="1010.5" cy="698" rx="13" ry="10"/><ellipse cx="1010.5" cy="698" rx="11.5" ry="8.6"/><rect x="1023.5" y="689.3" width="6" height="17.7"/>
<ellipse cx="1010.5" cy="885" rx="13" ry="10"/><ellipse cx="1010.5" cy="885" rx="11.5" ry="8.6"/><rect x="1023.5" y="876.3" width="6" height="17.7"/>
<path d="M943.3 675H966.4Q966 688 954.8 695Q944 688 943.3 675Z"/><circle cx="954.8" cy="682" r="1.2"/>
<rect x="937.3" y="777" width="48.1" height="3"/>
<rect x="937.3" y="802" width="48.1" height="3"/>
<path d="M978 774H985V783H978M978 799H985V808H978" stroke-width="0.6"/>
<path d="M937.3 882.3H977.4V915.4M856.6 882.3H930.3"/>
<rect x="919.3" y="889.3" width="18" height="26.1"/><rect x="937.3" y="889.3" width="33.1" height="26.1"/>
<circle cx="925.9" cy="895.3" r="4"/><circle cx="963.4" cy="895.3" r="4"/>
</g>
<path d="M937.3 730A48 48 0 0 1 985.3 778M985.3 804A48 48 0 0 1 937.3 852" fill="none" stroke="#000" stroke-width="0.7" stroke-dasharray="3 2"/>
<g fill="#000">
<rect x="925.9" y="659.8" width="11.4" height="15.1"/>
<rect x="950.9" y="659.8" width="12.1" height="15.1"/>
<rect x="925.9" y="901.3" width="11.4" height="14.1"/>
<rect x="950.9" y="901.3" width="12.1" height="14.1"/>
</g>
<text class="r" x="971.4" y="721" font-size="22">男卫</text>
<text class="r" x="975.4" y="860" font-size="22">女卫</text>
<rect x="1049.5" y="659.4" width="22.5" height="214.9" fill="none" stroke="#000" stroke-width="0.8"/>
<rect x="1050.5" y="660.5" width="20.5" height="213" fill="url(#p17)" stroke="#000" stroke-width="0.6"/>
<text class="b" font-size="16"><tspan x="1084.6" y="741">字</tspan><tspan x="1084.6" y="761">画</tspan><tspan x="1084.6" y="781">展</tspan><tspan x="1084.6" y="800">示</tspan><tspan x="1084.6" y="820">柜</tspan></text>

<!-- 瓷器展示柜 horizontal -->
<rect x="1141" y="659.7" width="225.3" height="23.8" fill="none" stroke="#000" stroke-width="0.8"/>
<rect x="1142" y="661" width="223.5" height="21" fill="url(#p16)" stroke="#000" stroke-width="0.6"/>
<rect x="1199" y="659.7" width="11" height="15.5" fill="#000"/>
<text class="b" x="1244.5" y="644.2" font-size="15">瓷器展示柜</text>
<path d="M1072.1 672.7H1141M1366.3 671.6H1436" stroke="#000" stroke-width="0.6"/>
<text class="n" x="1106.6" y="665.6">1200</text>
<text class="n" x="1401.4" y="664">1200</text>

<!-- ===== 品鉴区 ===== -->
<rect x="1167" y="753.2" width="173.4" height="51.6" fill="none" stroke="#000" stroke-width="0.9"/>
<rect x="1169" y="755.2" width="169.4" height="47.6" fill="none" stroke="#000" stroke-width="0.6"/>
<text class="b" x="1254.9" y="777" font-size="22">品鉴区</text>
<use href="#cht" x="1189.4" y="729.1"/>
<use href="#cht" x="1232.5" y="729.1"/>
<use href="#cht" x="1274.9" y="729.1"/>
<use href="#cht" x="1317.6" y="729.1"/>
<use href="#cht" transform="translate(1189.4,830.1) scale(1,-1)"/>
<use href="#cht" transform="translate(1232.5,830.1) scale(1,-1)"/>
<use href="#cht" transform="translate(1274.9,830.1) scale(1,-1)"/>
<use href="#cht" transform="translate(1317.6,830.1) scale(1,-1)"/>
<text class="s" x="1265.2" y="863.8" font-size="13">字画展示柜</text>
<path d="M1071.4 771.6H1167M1340.4 770.5H1436" stroke="#000" stroke-width="0.6"/>
<text class="n" x="1118.7" y="763">1640</text>
<text class="n" x="1387.7" y="762.5">1640</text>
<text class="b" font-size="16"><tspan x="1422.1" y="742">字</tspan><tspan x="1422.1" y="761">画</tspan><tspan x="1422.1" y="780">展</tspan><tspan x="1422.1" y="800">示</tspan><tspan x="1422.1" y="820">柜</tspan></text>
<rect x="1048.7" y="874.9" width="409.7" height="40.6" fill="none" stroke="#000" stroke-width="0.8"/>
<rect x="1050" y="876.5" width="407" height="37.5" fill="url(#p18)" stroke="#000" stroke-width="0.6"/>
<rect x="1447.3" y="901.5" width="11.1" height="14" fill="#000"/>

<!-- ===== dimensions: top ===== -->
<g fill="none" stroke="#000" stroke-width="0.6">
<path d="M114 51H1459M114 67H1459"/>
<path d="M114 49V85M1459 49V85M248 65V85M277 65V85M288 65V85M430 65V85M441.5 65V85M678 65V85M689 65V85M1199 65V85M1210.5 65V85M1447 65V85"/>
<path d="M112 53L116 49M1457 53L1461 49M112 69L116 65M1457 69L1461 65M246 69L250 65M275 69L279 65M286 69L290 65M428 69L432 65M439.5 69L443.5 65M676 69L680 65M687 69L691 65M1197 69L1201 65M1208.5 69L1212.5 65M1445 69L1449 65"/>
</g>
<text class="n" x="786.5" y="43">23205</text>
<text class="n" x="181" y="59">2300</text>
<text class="n" x="262.5" y="59">500</text>
<text class="n" x="282.5" y="59">200</text>
<text class="n" x="359" y="59">2445</text>
<text class="n" x="436" y="59">200</text>
<text class="n" x="559.5" y="59">4080</text>
<text class="n" x="683.5" y="59">200</text>
<text class="n" x="944" y="59">8800</text>
<text class="n" x="1205" y="59">200</text>
<text class="n" x="1328.5" y="59">4080</text>
<text class="n" x="1453" y="59">200</text>

<!-- left -->
<g fill="none" stroke="#000" stroke-width="0.6">
<path d="M70.7 124.5V915.5M53.4 124.5V915.5"/>
<path d="M51 124.5H89M51 915.5H89M68.7 256.5H89M68.7 388.9H89M68.7 403.1H89M68.7 660.8H89M68.7 675H89M68.7 785.1H89"/>
<path d="M68.7 126.5L72.7 122.5M68.7 258.5L72.7 254.5M68.7 390.9L72.7 386.9M68.7 405.1L72.7 401.1M68.7 662.8L72.7 658.8M68.7 677L72.7 673M68.7 787.1L72.7 783.1M68.7 917.5L72.7 913.5M51.4 126.5L55.4 122.5M51.4 917.5L55.4 913.5"/>
</g>
<text class="n" transform="translate(63.8,190.5) rotate(-90)">2275</text>
<text class="n" transform="translate(63.8,322.7) rotate(-90)">2285</text>
<text class="n" transform="translate(63.8,396) rotate(-90)">250</text>
<text class="n" transform="translate(63.8,531.9) rotate(-90)">4430</text>
<text class="n" transform="translate(63.8,667.9) rotate(-90)">250</text>
<text class="n" transform="translate(63.8,730) rotate(-90)">1910</text>
<text class="n" transform="translate(63.8,850.3) rotate(-90)">2250</text>
<text class="n" transform="translate(45,519.5) rotate(-90)">13650</text>

<!-- right -->
<g fill="none" stroke="#000" stroke-width="0.6">
<path d="M1498 124.5V915.5M1514.2 124.5V915.5"/>
<path d="M1480.8 124.5H1516M1480.8 915.5H1516M1480.8 388.9H1500M1480.8 433.3H1500M1480.8 659.7H1500M1480.8 674H1500"/>
<path d="M1496 126.5L1500 122.5M1496 390.9L1500 386.9M1496 435.3L1500 431.3M1496 661.7L1500 657.7M1496 676L1500 672M1496 917.5L1500 913.5M1512.2 126.5L1516.2 122.5M1512.2 917.5L1516.2 913.5"/>
</g>
<text class="n" transform="translate(1491,256.7) rotate(-90)">4560</text>
<text class="n" transform="translate(1491,411.1) rotate(-90)">770</text>
<text class="n" transform="translate(1491,546.5) rotate(-90)">3910</text>
<text class="n" transform="translate(1490,666.9) rotate(-90)">250</text>
<text class="n" transform="translate(1491,794.8) rotate(-90)">4160</text>
<text class="n" transform="translate(1507,519.5) rotate(-90)">13650</text>

<!-- bottom -->
<g fill="none" stroke="#000" stroke-width="0.6">
<path d="M114.5 961H1458.4M114.5 977H1458.4"/>
<path d="M114.5 943V979M1458.4 943V979M429.7 943V963M677.6 943V963M689.3 943V963M856.6 943V963M912.4 943V963M977.2 943V963M1041.1 943V963M1048.7 943V963"/>
<path d="M112.5 963L116.5 959M1456.4 963L1460.4 959M112.5 979L116.5 975M1456.4 979L1460.4 975M427.7 963L431.7 959M675.6 963L679.6 959M687.3 963L691.3 959M854.6 963L858.6 959M910.4 963L914.4 959M975.2 963L979.2 959M1039.1 963L1043.1 959M1046.7 963L1050.7 959"/>
</g>
<text class="n" x="272" y="953">5440</text>
<text class="n" x="553.8" y="953">4280</text>
<text class="n" x="683.5" y="953">200</text>
<text class="n" x="772.8" y="953">2880</text>
<text class="n" x="884.5" y="953">960</text>
<text class="n" x="944.8" y="953">1120</text>
<text class="n" x="1009.5" y="953">1120</text>
<text class="n" x="1045" y="953">120</text>
<text class="n" x="1253.5" y="953">7080</text>
<text class="n" x="786.6" y="969">23200</text>

<!-- title -->
<text class="b" x="749" y="1049" font-size="38">一层平面方案一</text>
</svg>
</body></html>
